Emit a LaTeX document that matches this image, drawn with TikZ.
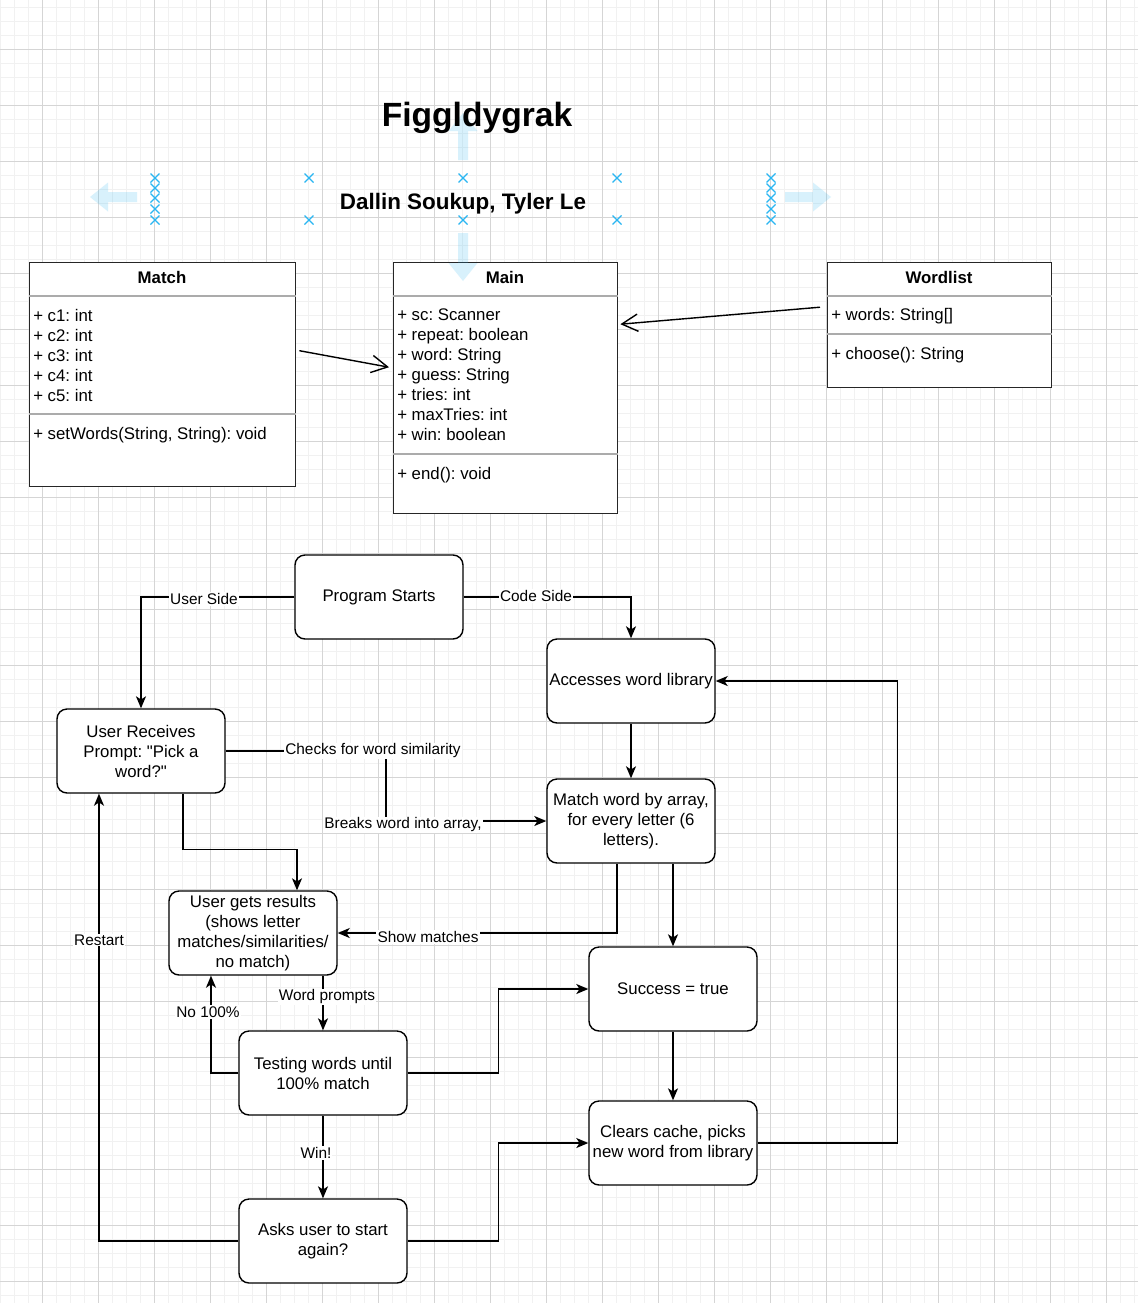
\documentclass[tikz,border=0pt]{standalone}
\usepackage{fontspec}
\setmainfont{Liberation Sans}[Ligatures=TeXOff]
\usetikzlibrary{arrows.meta,calc}
\definecolor{gridmaj}{HTML}{D5D5D5}
\definecolor{gridmin}{HTML}{F1F1F1}
\definecolor{selblue}{HTML}{29B6F2}
\definecolor{umlsep}{HTML}{ABABAB}
\newcommand\nodefont{\fontsize{12.6}{15}\selectfont}
\newcommand\lblfont{\fontsize{11.55}{13.9}\selectfont}
\newcommand\selx[2]{\draw[selmark] (#1-4.5,#2-4.5) -- (#1+4.5,#2+4.5) (#1-4.5,#2+4.5) -- (#1+4.5,#2-4.5);}
\frenchspacing
\begin{document}
\begin{tikzpicture}[x=0.75pt,y=-0.75pt,
  gmin/.style={gridmin, line width=0.75pt},
  gmaj/.style={gridmaj, line width=0.75pt},
  selmark/.style={selblue, line width=1pt},
  selarrow/.style={fill=selblue, fill opacity=0.18, draw=none},
  fbox/.style={draw=black, line width=1.05pt, rounded corners=7.5pt, minimum width=126pt, minimum height=63pt, align=center, inner sep=1pt, font=\nodefont, fill=white},
  umlbox/.style={draw=black!85, line width=1.05pt, fill=white, anchor=north west, inner sep=0pt},
  umlhead/.style={font=\nodefont\bfseries, inner sep=0pt},
  umltext/.style={font=\nodefont, align=left, anchor=west, inner sep=0pt},
  sepline/.style={umlsep, line width=0.9pt},
  arr/.style={draw=black, line width=1.05pt, -{Stealth[length=9pt, width=7.5pt, inset=2.4pt]}},
  openarr/.style={draw=black, line width=1.05pt, -{Straight Barb[length=12pt, width=13pt]}},
  lbl/.style={fill=white, inner sep=0.8pt, font=\lblfont}
]
\useasboundingbox (0,0) rectangle (1138,1303);
\fill[white] (0,0) rectangle (1138,1303);
% grid
\foreach \i in {0,...,81} { \draw[gmin] (\i*14,0) -- (\i*14,1303); }
\foreach \j in {0,...,92} { \draw[gmin] (0,7.3+\j*14) -- (1138,7.3+\j*14); }
\foreach \i in {0,...,19} { \draw[gmaj] (42+\i*56,0) -- (42+\i*56,1303); }
\foreach \j in {0,...,22} { \draw[gmaj] (0,49.3+\j*56) -- (1138,49.3+\j*56); }

% UML classes
\node[umlbox, minimum width=199.5pt, minimum height=168pt] (match) at (29,262) {};
\node[umlhead] (matchH) at (162,277) {Match};
\draw[sepline] ($(match.north west)+(0,34)$) -- ($(match.north east)+(0,34)$);
\node[umltext] (matchA) at (33,355) {+ c1: int\\+ c2: int\\+ c3: int\\+ c4: int\\+ c5: int};
\draw[sepline] ($(match.north west)+(0,152)$) -- ($(match.north east)+(0,152)$);
\node[umltext] (matchM) at (33,435) {+ setWords(String, String): void};

\node[umlbox, minimum width=168pt, minimum height=188.25pt] (main) at (393,262) {};
\node[umlhead] (mainH) at (505,277) {Main};
\draw[sepline] ($(main.north west)+(0,34)$) -- ($(main.north east)+(0,34)$);
\node[umltext] (mainA) at (397,375) {+ sc: Scanner\\+ repeat: boolean\\+ word: String\\+ guess: String\\+ tries: int\\+ maxTries: int\\+ win: boolean};
\draw[sepline] ($(main.north west)+(0,192)$) -- ($(main.north east)+(0,192)$);
\node[umltext] (mainM) at (397,475) {+ end(): void};

\node[umlbox, minimum width=168pt, minimum height=93.75pt] (wordlist) at (827,262) {};
\node[umlhead] (wordlistH) at (939,277) {Wordlist};
\draw[sepline] ($(wordlist.north west)+(0,34)$) -- ($(wordlist.north east)+(0,34)$);
\node[umltext] (wordlistA) at (831,316) {+ words: String[]};
\draw[sepline] ($(wordlist.north west)+(0,72)$) -- ($(wordlist.north east)+(0,72)$);
\node[umltext] (wordlistM) at (831,355) {+ choose(): String};

\draw[openarr] ($(match.east)+(3,-24)$) -- ($(main.west)+(-4,-21)$);
\draw[openarr] ($(wordlist.west)+(-7,-18)$) -- ($(main.east)+(2,-64)$);

% selection decorations
\fill[selarrow] (90,197) -- (108,182.5) -- (108,192) -- (137,192) -- (137,202) -- (108,202) -- (108,211.5) -- cycle;
\fill[selarrow] (831,197) -- (813,182.5) -- (813,192) -- (785,192) -- (785,202) -- (813,202) -- (813,211.5) -- cycle;
\fill[selarrow] (463,113) -- (448.5,131) -- (458,131) -- (458,160) -- (468,160) -- (468,131) -- (477.5,131) -- cycle;
\fill[selarrow] (463,281) -- (448.5,263) -- (458,263) -- (458,233) -- (468,233) -- (468,263) -- (477.5,263) -- cycle;
\selx{309}{178}\selx{463}{178}\selx{617}{178}
\selx{309}{220}\selx{463}{220}\selx{617}{220}
\foreach \yy in {178,188,198,209,220} { \selx{155}{\yy} \selx{771}{\yy} }

% titles
\node[font=\fontsize{25.2}{30}\selectfont\bfseries, inner sep=0pt] (title) at (477,118) {Figgldygrak};
\node[font=\fontsize{16.8}{20}\selectfont\bfseries, inner sep=0pt] (authors) at (463,204) {Dallin Soukup, Tyler Le};

% flowchart nodes
\node[fbox] (ps) at (379,597) {Program Starts};
\node[fbox] (acc) at (631,681) {Accesses word library};
\node[fbox] (urp) at (141,751) {User Receives\\Prompt: "Pick a\\word?"};
\node[fbox] (mwa) at (631,821) {Match word by array,\\for every letter (6\\letters).};
\node[fbox] (ugr) at (253,933) {User gets results\\(shows letter\\matches/similarities/\\no match)};
\node[fbox] (succ) at (673,989) {Success = true};
\node[fbox] (test) at (323,1073) {Testing words until\\100\% match};
\node[fbox] (clear) at (673,1143) {Clears cache, picks\\new word from library};
\node[fbox] (asks) at (323,1241) {Asks user to start\\again?};

\coordinate (k1) at (386,751);
\coordinate (k2) at (386,821);

% connectors
\draw[arr] (ps.west) -| (urp.north);
\draw[arr] (ps.east) -| (acc.north);
\draw[arr] (acc.south) -- (mwa.north);
\draw[arr] (urp.east) -- (k1) -- (k2) -- (mwa.west);
\draw[arr] ($(urp.south)+(42,0)$) -- ++(0,56) -| ($(ugr.north)+(44,0)$);
\draw[arr] ($(mwa.south)+(-14,0)$) |- (ugr.east);
\draw[arr] ($(mwa.south)+(42,0)$) -- (succ.north);
\draw[arr] ($(ugr.south)+(70,0)$) -- (test.north);
\draw[arr] (test.west) -| ($(ugr.south)+(-42,0)$);
\draw[arr] (test.east) -- ++(91,0) |- (succ.west);
\draw[arr] (test.south) -- (asks.north);
\draw[arr] (succ.south) -- (clear.north);
\draw[arr] (asks.east) -- ++(91,0) |- (clear.west);
\draw[arr] (clear.east) -- ++(140,0) |- (acc.east);
\draw[arr] (asks.west) -| ($(urp.south)+(-42,0)$);

% connector labels
\node[lbl] (lUser) at (204,599) {User Side};
\node[lbl] (lCode) at (536,596) {Code Side};
\node[lbl] (lChecks) at (373,751) {Checks for word similarity};
\node[lbl] (lBreaks) at (403,825) {Breaks word into array,};
\node[lbl] (lShow) at (428,937) {Show matches};
\node[lbl] (lWord) at (327,997) {Word prompts};
\node[lbl] (lNo) at (208,1012) {No 100\%};
\node[lbl] (lWin) at (316,1153) {Win!};
\node[lbl] (lRestart) at (99,940) {Restart};
\end{tikzpicture}
\end{document}
